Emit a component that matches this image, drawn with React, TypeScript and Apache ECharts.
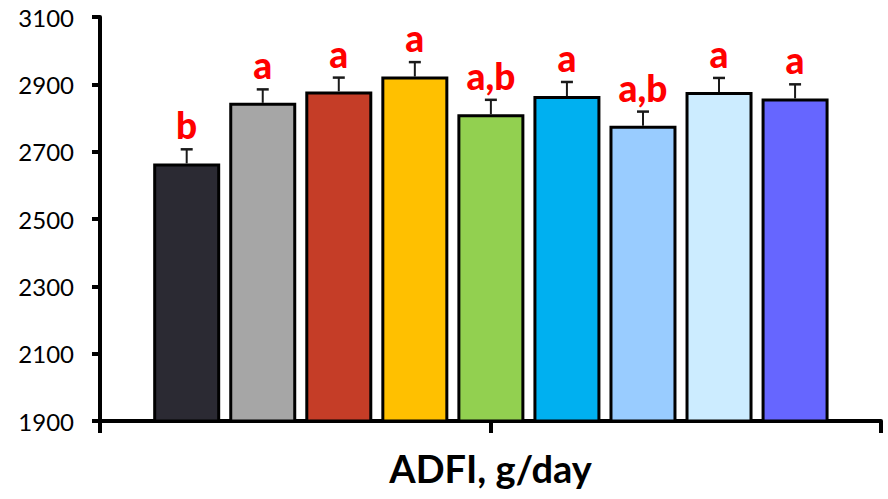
import React, { useEffect, useRef } from "react";
import * as echarts from "echarts";

const groups = ["G1", "G2", "G3", "G4", "G5", "G6", "G7", "G8", "G9"];
const means = [2665, 2845, 2879, 2923, 2811, 2865, 2777, 2877, 2858];
const sems = [42, 40, 41, 43, 43, 42, 42, 42, 42];
const letters = ["b", "a", "a", "a", "a,b", "a", "a,b", "a", "a"];
const colors = ["#2B2A33", "#A6A6A6", "#C53D27", "#FFC000", "#92D050", "#00B0F0", "#99CCFF", "#CCECFF", "#6666FF"];
const yTicks = { min: 1900, max: 3100, step: 200 };
const axisTitle = "ADFI, g/day";

export default function App() {
  const ref = useRef<HTMLDivElement>(null);
  useEffect(() => {
    if (!ref.current) return;
    const chart = echarts.init(ref.current, null, { renderer: "svg" });
    const barData = means.map((v, i) => ({
      value: [i, v],
      itemStyle: { color: colors[i], borderColor: "#000", borderWidth: 3 },
      name: groups[i],
    }));
    const errData = means.map((v, i) => [i, v, sems[i]]);
    chart.setOption({
      animation: false,
      grid: { left: 100, right: 7, top: 17, bottom: 78, containLabel: false },
      xAxis: [
        { type: "value", min: -1.14, max: 9.13, show: false, position: "bottom" },
        {
          type: "value",
          min: 0,
          max: 2,
          interval: 1,
          position: "bottom",
          axisLine: { show: true, onZero: false, lineStyle: { color: "#000", width: 4 } },
          axisTick: { show: true, inside: false, length: 12, lineStyle: { color: "#000", width: 4 } },
          axisLabel: { show: false },
          splitLine: { show: false },
          name: axisTitle,
          nameLocation: "middle",
          nameGap: 28,
          nameTextStyle: { fontFamily: "Lato", fontWeight: "bold", fontSize: 38, color: "#000" },
        },
      ],
      yAxis: {
        type: "value",
        min: yTicks.min,
        max: yTicks.max,
        interval: yTicks.step,
        axisLine: { show: true, onZero: false, lineStyle: { color: "#000", width: 4 } },
        axisTick: { show: true, inside: false, length: 8, lineStyle: { color: "#000", width: 4 } },
        axisLabel: {
          fontFamily: "Lato",
          fontSize: 24,
          color: "#000",
          margin: 26,
          formatter: (v: number) => String(v),
        },
        splitLine: { show: false },
      },
      series: [
        {
          type: "bar",
          xAxisIndex: 0,
          barWidth: 67,
          data: barData,
          z: 2,
        },
        {
          type: "custom",
          xAxisIndex: 0,
          z: 3,
          data: errData,
          encode: { x: 0, y: 1 },
          renderItem: (params: any, api: any) => {
            const x = api.value(0);
            const v = api.value(1);
            const e = api.value(2);
            const base = api.coord([x, v]);
            const top = api.coord([x, v + e]);
            return {
              type: "group",
              children: [
                {
                  type: "line",
                  shape: { x1: base[0], y1: base[1], x2: top[0], y2: top[1] },
                  style: { stroke: "#1a1a1a", lineWidth: 2 },
                },
                {
                  type: "line",
                  shape: { x1: top[0] - 6, y1: top[1], x2: top[0] + 6, y2: top[1] },
                  style: { stroke: "#1a1a1a", lineWidth: 2.5 },
                },
                {
                  type: "text",
                  style: {
                    text: letters[params.dataIndex],
                    x: top[0],
                    y: top[1] - 6,
                    fill: "#FF0000",
                    fontFamily: "Lato",
                    fontWeight: 900,
                    fontSize: 37,
                    align: "center",
                    verticalAlign: "bottom",
                    textAlign: "center",
                    textVerticalAlign: "bottom",
                  },
                },
              ],
            };
          },
        },
      ],
    });
    return () => chart.dispose();
  }, []);
  return (
    <div
      ref={ref}
      style={{ position: "absolute", left: 0, top: 0, width: 888, height: 499, background: "#fff" }}
    />
  );
}
